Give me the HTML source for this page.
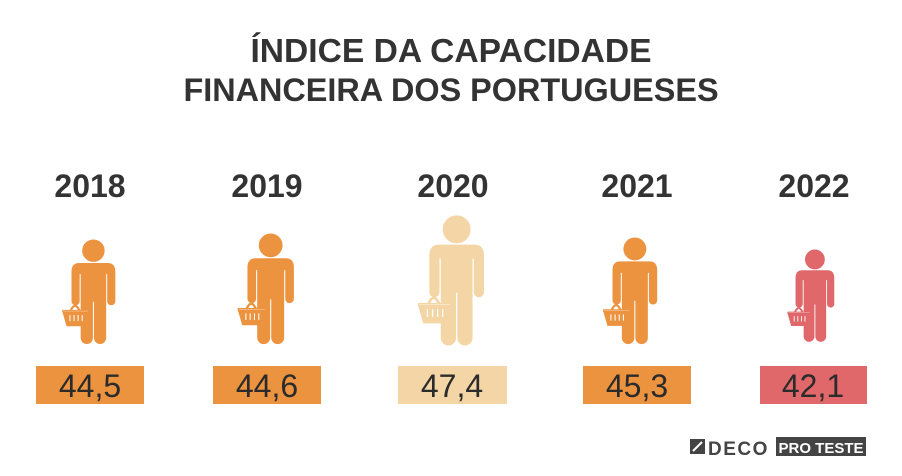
<!DOCTYPE html>
<html><head><meta charset="utf-8"><style>
body{margin:0;background:#fff;}
svg{display:block;font-family:"Liberation Sans",sans-serif;}
</style></head><body>
<svg width="902" height="476" viewBox="0 0 902 476">
<defs>
<g id="p">
  <circle cx="21" cy="10.5" r="10.5"/>
  <path d="M7,23 H35 Q42,23 42,31 V60 A3.5,3.5 0 0 1 35,60 V33 H33 V96 A5.5,5.5 0 0 1 22,96 V60 H20 V96 A5.5,5.5 0 0 1 9,96 V33 H7 V60 A3.5,3.5 0 0 1 0,60 V31 Q0,23 7,23 Z"/>
  <path d="M-2,71 Q3,58 8,71" fill="none" stroke-width="2.2"/>
  <path d="M-9,70 H16 L12,84 H-5 Z"/>
  <rect x="-3" y="73" width="2" height="7" fill="#fff"/>
  <rect x="1" y="73" width="2" height="7" fill="#fff"/>
  <rect x="5" y="73" width="2" height="7" fill="#fff"/>
  <rect x="9" y="73" width="2" height="7" fill="#fff"/>
  <rect x="-9" y="69" width="25" height="1.3" fill="#fff"/>
</g>
</defs>
<g fill="#333" font-weight="bold" text-anchor="middle">
<text x="451" y="62" font-size="33.6">ÍNDICE DA CAPACIDADE</text>
<text x="451" y="101" font-size="32.4">FINANCEIRA DOS PORTUGUESES</text>
<text x="90" y="197" font-size="32">2018</text>
<text x="267" y="197" font-size="32">2019</text>
<text x="453" y="197" font-size="32">2020</text>
<text x="637" y="197" font-size="32">2021</text>
<text x="814" y="197" font-size="32">2022</text>
</g>
<g fill="#ec9340" stroke="#ec9340"><use href="#p" transform="translate(72,240) scale(1.02)"/></g>
<g fill="#ec9340" stroke="#ec9340"><use href="#p" transform="translate(248,234) scale(1.08)"/></g>
<g fill="#f4d6a6" stroke="#f4d6a6"><use href="#p" transform="translate(430,216) scale(1.27)"/></g>
<g fill="#ec9340" stroke="#ec9340"><use href="#p" transform="translate(613,238) scale(1.04)"/></g>
<g fill="#e0676a" stroke="#e0676a"><use href="#p" transform="translate(796,250) scale(0.9)"/></g>
<rect x="36" y="366" width="108" height="38" fill="#ec9340"/>
<rect x="213" y="366" width="108" height="38" fill="#ec9340"/>
<rect x="398" y="366" width="109" height="38" fill="#f4d6a6"/>
<rect x="583" y="366" width="108" height="38" fill="#ec9340"/>
<rect x="760" y="366" width="107" height="38" fill="#e0676a"/>
<g fill="#2b2b2b" font-size="32" text-anchor="middle">
<text x="90" y="397">44,5</text>
<text x="267" y="397">44,6</text>
<text x="452" y="397">47,4</text>
<text x="637" y="397">45,3</text>
<text x="813" y="397">42,1</text>
</g>
<rect x="690" y="439" width="15" height="15" fill="#444"/>
<path d="M693,451 L702,442" stroke="#fff" stroke-width="2"/>
<text x="708" y="455" font-size="19" font-weight="bold" fill="#444" letter-spacing="1.5">DECO</text>
<rect x="776" y="437" width="90" height="19" fill="#444"/>
<text x="821" y="453" font-size="15" font-weight="bold" fill="#fff" text-anchor="middle">PRO TESTE</text>
</svg>
</body></html>
